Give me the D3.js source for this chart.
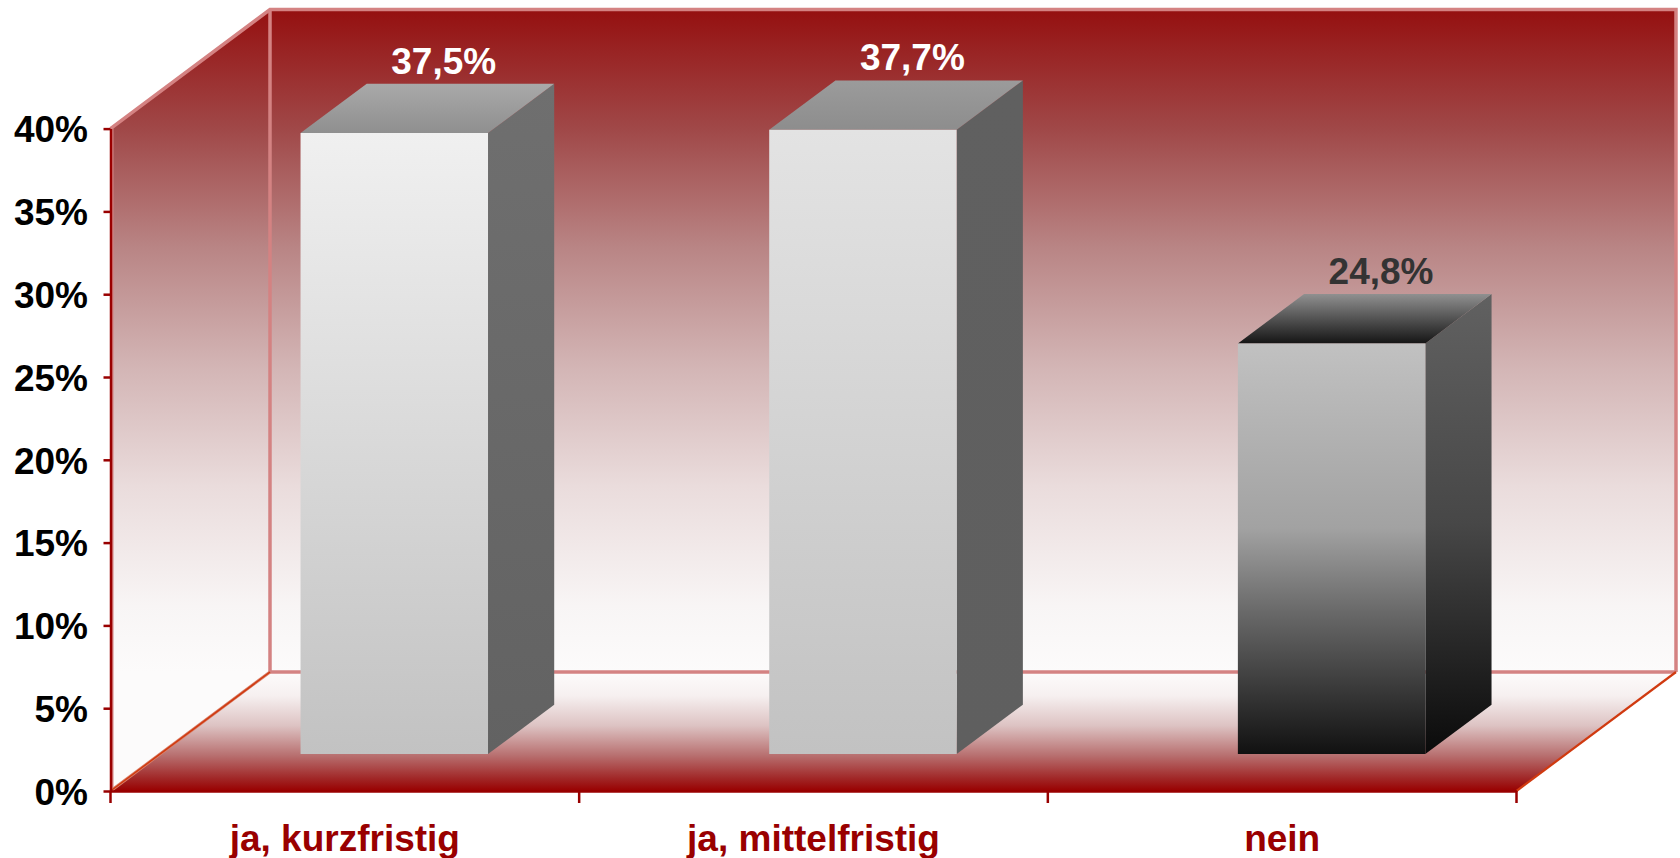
<!DOCTYPE html>
<html>
<head>
<meta charset="utf-8">
<script src="https://cdn.jsdelivr.net/npm/d3@7"></script>
<style>
  html, body { margin: 0; padding: 0; background: #ffffff; }
  svg { display: block; }
  text { font-family: "Liberation Sans", Arial, sans-serif; font-weight: bold; }
</style>
</head>
<body>
<svg id="chart" width="1680" height="858"></svg>
<script>
// ---- data ----
const categories = ["ja, kurzfristig", "ja, mittelfristig", "nein"];
const values = [0.375, 0.377, 0.248];
const yTicks = [0, 0.05, 0.10, 0.15, 0.20, 0.25, 0.30, 0.35, 0.40];
const yMax = 0.40;

// ---- layout ----
const W = 1680, H = 858;
const xLeft = 110.5, xRight = 1516.5;
const yBottom = 791, yTopVal = 128.6;
const depthX = 159.5, depthY = 119;
const barFrontZ = 0.31, barBackZ = 0.725, barWidthFrac = 0.4;
const fontSize = 37;

const svg = d3.select("#chart");
const defs = svg.append("defs");

const x = d3.scaleBand().domain(categories).range([xLeft, xRight]).paddingInner(0).paddingOuter(0);
const y = d3.scaleLinear().domain([0, yMax]).range([yBottom, yTopVal]);
const P = (px, py, z) => [px + z * depthX, py - z * depthY];

const de = d3.formatLocale({decimal: ",", thousands: ".", grouping: [3], currency: ["", " €"]});
const fmtVal = de.format(".1%");
const fmtTick = de.format(".0%");

function linGrad(id, stops, attrs) {
  const g = defs.append("linearGradient").attr("id", id);
  Object.entries(attrs).forEach(([k, v]) => g.attr(k, v));
  stops.forEach(([o, c]) => g.append("stop").attr("offset", o).attr("stop-color", c));
}

// wall gradient (user space, vertical)
const wallTop = yTopVal - depthY, wallBottom = yBottom - depthY;
linGrad("wallGrad", [
  [0, "#951010"], [0.18, "#a04848"], [0.36, "#b98585"], [0.54, "#d3b5b5"],
  [0.72, "#eadcdc"], [0.9, "#f8f5f5"], [1, "#fcfbfb"]
], {gradientUnits: "userSpaceOnUse", x1: 0, y1: wallTop, x2: 0, y2: wallBottom});
linGrad("floorGrad", [
  [0, "#fdfbfb"], [0.2, "#f6f0f0"], [0.45, "#ddc3c3"], [0.7, "#b87070"],
  [0.9, "#a02525"], [1, "#990000"]
], {gradientUnits: "userSpaceOnUse", x1: 0, y1: wallBottom, x2: 0, y2: yBottom});

// bar gradients
const barStyles = [
  {front: [["0", "#f0f0f0"], ["1", "#c2c2c2"]], side: [["0", "#6f6f6f"], ["1", "#626262"]], top: [["0", "#a9a9a9"], ["1", "#8f8f8f"]], label: "#ffffff"},
  {front: [["0", "#e3e3e3"], ["1", "#c2c2c2"]], side: [["0", "#606060"], ["1", "#5f5f5f"]], top: [["0", "#9b9b9b"], ["1", "#8d8d8d"]], label: "#ffffff"},
  {front: [["0", "#c1c1c1"], ["0.45", "#a2a2a2"], ["0.65", "#6a6a6a"], ["1", "#111111"]],
   side: [["0", "#616161"], ["0.5", "#474747"], ["1", "#0a0a0a"]],
   top: [["0", "#909090"], ["1", "#151515"]], label: "#333333"}
];
barStyles.forEach((s, i) => {
  linGrad("front" + i, s.front, {x1: 0, y1: 0, x2: 0, y2: 1});
  linGrad("side" + i, s.side, {x1: 0, y1: 0, x2: 0, y2: 1});
  linGrad("top" + i, s.top, {x1: 0, y1: 0, x2: 0, y2: 1});
});

const line = d3.line();

// back wall
const bwTL = P(xLeft, y(yMax), 1), bwTR = P(xRight, y(yMax), 1);
const bwBL = P(xLeft, y(0), 1), bwBR = P(xRight, y(0), 1);
svg.append("path").attr("d", line([bwTL, bwTR, bwBR, bwBL]) + "Z").attr("fill", "url(#wallGrad)");
// left wall
const lwFT = [xLeft, y(yMax)], lwFB = [xLeft, y(0)];
svg.append("path").attr("d", line([lwFT, bwTL, bwBL, lwFB]) + "Z").attr("fill", "url(#wallGrad)");
// floor
const flFR = [xRight, y(0)];
svg.append("path").attr("d", line([lwFB, bwBL, bwBR, flFR]) + "Z").attr("fill", "url(#floorGrad)");

// wall edges (pink)
const pink = "#d48282";
svg.append("path").attr("d", line([lwFT, bwTL, bwTR, bwBR])).attr("fill", "none").attr("stroke", pink).attr("stroke-width", 3.5);
svg.append("path").attr("d", line([bwTL, bwBL, bwBR])).attr("fill", "none").attr("stroke", pink).attr("stroke-width", 3.5);
svg.append("path").attr("d", line([[xLeft + 2, y(yMax)], [xLeft + 2, y(0)]])).attr("fill", "none").attr("stroke", pink).attr("stroke-width", 2);
// floor diagonals (orange-red)
svg.append("path").attr("d", line([lwFB, bwBL])).attr("stroke", "#d9826e").attr("stroke-width", 3).attr("fill", "none");
svg.append("path").attr("d", line([lwFB, bwBL])).attr("stroke", "#d03a10").attr("stroke-width", 1.5).attr("fill", "none");
svg.append("path").attr("d", line([flFR, bwBR])).attr("stroke", "#d03a10").attr("stroke-width", 2.2).attr("fill", "none");

// bars
const bars = svg.append("g").selectAll("g").data(values).join("g");
bars.each(function(v, i) {
  const g = d3.select(this);
  const cx = x(categories[i]) + x.bandwidth() / 2;
  const bw = x.bandwidth() * barWidthFrac;
  const xl = cx - bw / 2, xr = cx + bw / 2;
  const yt = y(v), yb = y(0);
  const fTL = P(xl, yt, barFrontZ), fTR = P(xr, yt, barFrontZ), fBR = P(xr, yb, barFrontZ), fBL = P(xl, yb, barFrontZ);
  const bTL = P(xl, yt, barBackZ), bTR = P(xr, yt, barBackZ), bBR = P(xr, yb, barBackZ);
  g.append("path").attr("d", line([fTR, bTR, bBR, fBR]) + "Z").attr("fill", `url(#side${i})`);
  g.append("path").attr("d", line([fTL, bTL, bTR, fTR]) + "Z").attr("fill", `url(#top${i})`)
    .attr("transform", null);
  g.append("path").attr("d", line([fTL, fTR, fBR, fBL]) + "Z").attr("fill", `url(#front${i})`);
});
// top face gradient should go from back (top) to front (bottom): objectBoundingBox vertical works.

// value labels
svg.append("g").selectAll("text").data(values).join("text")
  .attr("x", (d, i) => x(categories[i]) + x.bandwidth() / 2 + 0.62 * depthX)
  .attr("y", d => y(d) - barBackZ * depthY - 10)
  .attr("text-anchor", "middle")
  .attr("font-size", fontSize)
  .attr("fill", (d, i) => barStyles[i].label)
  .text(d => fmtVal(d));

// y axis
const yAxis = d3.axisLeft(y).tickValues(yTicks).tickFormat(fmtTick).tickSize(7).tickPadding(15.5).tickSizeOuter(0);
const gy = svg.append("g").attr("transform", `translate(${xLeft},0)`).call(yAxis);
gy.select(".domain").attr("stroke", "#990000").attr("stroke-width", 2.5);
gy.selectAll(".tick line").attr("stroke", "#990000").attr("stroke-width", 2.5);
gy.selectAll(".tick text").attr("font-size", fontSize).attr("font-family", "Liberation Sans, Arial, sans-serif")
  .attr("font-weight", "bold").attr("fill", "#000").attr("dy", "0.36em");

// x axis (categories) + floor front edge
const xAxis = d3.axisBottom(x).tickSize(0).tickPadding(0).tickSizeOuter(0);
const gx = svg.append("g").attr("transform", `translate(0,${yBottom})`).call(xAxis);
gx.select(".domain").attr("stroke", "#990000").attr("stroke-width", 2.5);
gx.selectAll(".tick text").attr("font-size", fontSize).attr("font-family", "Liberation Sans, Arial, sans-serif")
  .attr("font-weight", "bold").attr("fill", "#990000").attr("y", 60).attr("dy", "0");
// boundary ticks
const bounds = categories.map(c => x(c)).concat([x.range()[1]]);
svg.append("g").selectAll("line").data(bounds).join("line")
  .attr("x1", d => d).attr("x2", d => d).attr("y1", yBottom).attr("y2", yBottom + 12)
  .attr("stroke", "#990000").attr("stroke-width", 2.5);
</script>
</body>
</html>
